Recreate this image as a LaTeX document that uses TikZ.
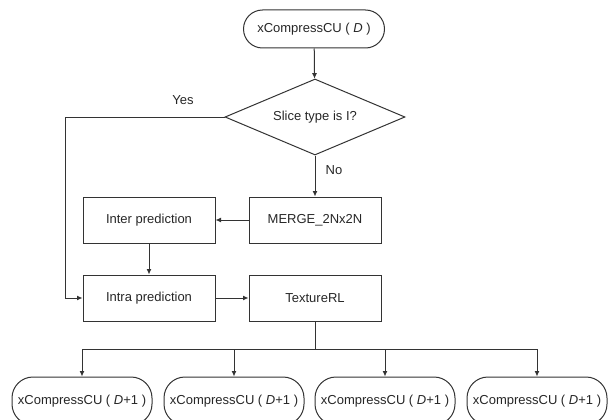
\documentclass[tikz,border=0pt]{standalone}
\usepackage{fontspec}
\setmainfont{Liberation Sans}
\usetikzlibrary{positioning, shapes.geometric, arrows.meta}
\tikzset{
>={Latex[length=5.5pt,width=5pt]}, % small filled arrow tips
every node/.style={font=\fontsize{13}{15}\selectfont, text=black!85}, % text of every box
every path/.style={line width=1pt},
terminal/.style={draw, rounded corners=19pt, minimum width=141pt, minimum height=38pt, inner sep=0pt}, % start block
subcall/.style={terminal, rounded corners=21pt, minimum width=140pt, minimum height=48pt}, % recursive calls
process/.style={draw, minimum width=132pt, minimum height=46pt, inner sep=0pt}, % plain step
decision/.style={draw, diamond, aspect=2.37, minimum width=180pt, minimum height=76pt, inner sep=0pt}, % test
}
\def\call#1{xCompressCU ( #1 )}

\begin{document}
\begin{tikzpicture}[x=1pt, y=-1pt, color=black!80]
    \useasboundingbox (0,0) rectangle (608,420);

    \node[terminal] (start) at (314,29) {\call{\textit{D}}};
    \node[decision] (slice) at (315,117) {Slice type is I?};
    \node[process] (merge) at (315,220) {MERGE\_2Nx2N};
    \node[process] (inter) at (149,220) {Inter prediction};
    \node[process] (intra) at (149,298) {Intra prediction};
    \node[process] (texture) at (315,298) {TextureRL};

    %labels on the branches
    \node (yes) at (183,100) {Yes};
    \node (no) at (334,170) {No};

    \node[subcall] (sub1) at (82,401) {\call{\textit{D}+1}};
    \node[subcall] (sub2) at (234,401) {\call{\textit{D}+1}};
    \node[subcall] (sub3) at (385,401) {\call{\textit{D}+1}};
    \node[subcall] (sub4) at (537,401) {\call{\textit{D}+1}};

    \coordinate (turn) at (65,117);
    \coordinate (split) at (315,349);

    \draw[->] (start) -- (slice);
    \draw[->] (slice) -- (merge);
    \draw[->] (slice.west) -- (turn) |- (intra.west);
    \draw[->] (merge) -- (inter);
    \draw[->] (inter) -- (intra);
    \draw[->] (intra) -- (texture);
    \draw (texture) -- (split);
    \foreach \i in {1,...,4}
        \draw[->] (split) -| (sub\i.north);

\end{tikzpicture}
\end{document}
